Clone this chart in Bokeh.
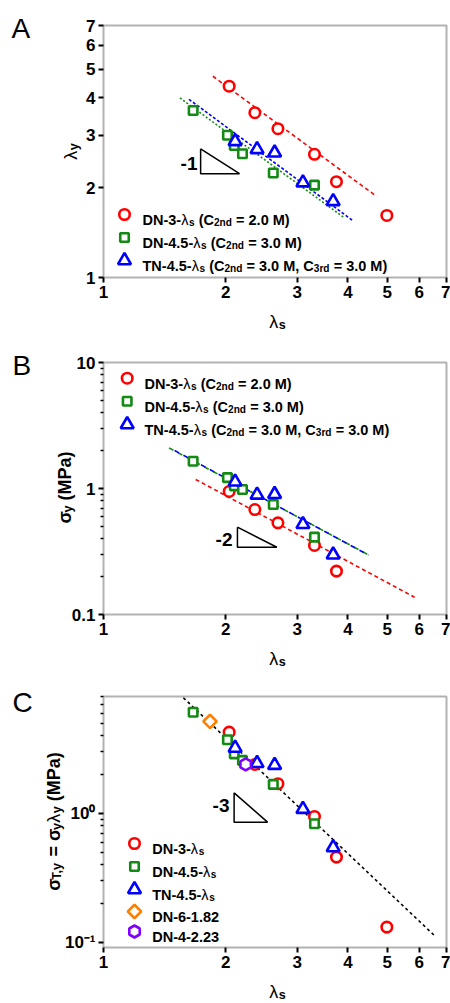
import math
from bokeh.plotting import figure
from bokeh.layouts import column
from bokeh.models import Range1d, FixedTicker, Label, BoxAnnotation
from bokeh.embed import file_html
from bokeh.resources import INLINE

# ---------------- data ----------------
x_ticks = [1, 2, 3, 4, 5, 6, 7]
x_tick_labels = ["1", "2", "3", "4", "5", "6", "7"]
a_y_ticks = [1, 2, 3, 4, 5, 6, 7]
a_y_tick_labels = ["1", "2", "3", "4", "5", "6", "7"]
b_y_ticks = [0.1, 1, 10]
b_y_tick_labels = ["0.1", "1", "10"]
c_y_ticks = [0.1, 1]
c_y_tick_labels = ["10\u207b\u00b9", "10\u2070"]

# lambda_s of each sample series
dn3_ls = [2.04, 2.36, 2.69, 3.31, 3.75, 4.99]
dn45_ls = [1.663, 2.02, 2.10, 2.20, 2.62, 3.31]
tn45_ls = [2.11, 2.39, 2.64, 3.10, 3.68]
dn6_ls = [1.83]
dn4_ls = [2.24]

# panel A : lambda_y
a_dn3 = [4.38, 3.57, 3.155, 2.59, 2.095, 1.615]
a_dn45 = [3.63, 3.00, 2.77, 2.60, 2.24, 2.04]
a_tn45 = [2.86, 2.69, 2.62, 2.08, 1.80]

# panel B : sigma_y (MPa)
b_dn3_ls = [2.04, 2.36, 2.69, 3.31, 3.75]
b_dn3 = [0.947, 0.681, 0.534, 0.353, 0.221]
b_dn45 = [1.647, 1.22, 1.05, 0.982, 0.746, 0.411]
b_tn45 = [1.13, 0.89, 0.90, 0.52, 0.298]

# panel C : sigma_T,y (MPa)
c_dn3 = [4.27, 2.40, 1.70, 0.948, 0.459, 0.1315]
c_dn45 = [6.10, 3.73, 2.90, 2.58, 1.68, 0.832]
c_tn45 = [3.22, 2.45, 2.37, 1.08, 0.545]
c_dn6 = [5.17]
c_dn4 = [2.40]

# fitted lines (end points)
a_fit_dn3_x, a_fit_dn3_y = [1.86, 4.71], [4.73, 1.87]
a_fit_dn45_x, a_fit_dn45_y = [1.543, 3.92], [4.00, 1.586]
a_fit_tn45_x, a_fit_tn45_y = [1.624, 4.11], [3.96, 1.553]
b_fit_dn3_x, b_fit_dn3_y = [1.687, 5.84], [1.18, 0.137]
b_fit_dn45_x, b_fit_dn45_y = [1.45, 4.48], [2.10, 0.299]
b_fit_tn45_x, b_fit_tn45_y = [1.46, 4.50], [2.09, 0.296]
c_fit_x, c_fit_y = [1.573, 6.54], [7.89, 0.113]

# slope triangles
a_tri_x, a_tri_y = [1.735, 1.735, 2.163, 1.735], [2.70, 2.23, 2.23, 2.70]
b_tri_x, b_tri_y = [2.138, 2.138, 2.674, 2.138], [0.493, 0.342, 0.342, 0.493]
c_tri_x, c_tri_y = [2.098, 2.098, 2.536, 2.098], [1.446, 0.856, 0.856, 1.446]
slope_texts = ["-1", "-2", "-3"]

# axis limits of each panel
x_lim = [1, 7]
a_y_lim = [1, 7]
b_y_lim = [0.1, 10]
c_y_lim = [0.0914, 8.07]

# legend texts (text, mode, bold)
legend_ab = [
    [("DN-3-", "n", 1), ("\u03bb", "n", 0), ("s", "sub", 1), (" (C", "n", 1), ("2nd", "sub", 1), (" = 2.0 M)", "n", 1)],
    [("DN-4.5-", "n", 1), ("\u03bb", "n", 0), ("s", "sub", 1), (" (C", "n", 1), ("2nd", "sub", 1), (" = 3.0 M)", "n", 1)],
    [("TN-4.5-", "n", 1), ("\u03bb", "n", 0), ("s", "sub", 1), (" (C", "n", 1), ("2nd", "sub", 1),
     (" = 3.0 M, C", "n", 1), ("3rd", "sub", 1), (" = 3.0 M)", "n", 1)],
]
legend_c = [
    [("DN-3-", "n", 1), ("\u03bb", "n", 0), ("s", "sub", 1)],
    [("DN-4.5-", "n", 1), ("\u03bb", "n", 0), ("s", "sub", 1)],
    [("TN-4.5-", "n", 1), ("\u03bb", "n", 0), ("s", "sub", 1)],
    [("DN-6-1.82", "n", 1)],
    [("DN-4-2.23", "n", 1)],
]
xlabel_parts = [("\u03bb", "n", 0), ("s", "sub", 1)]
a_ylabel_parts = [("\u03bb", "n", 0), ("y", "sub", 1)]
b_ylabel_parts = [("\u03c3", "n", 1), ("y", "sub", 1), (" (MPa)", "n", 1)]
c_ylabel_parts = [("\u03c3", "n", 1), ("T,y", "sub", 1), (" = \u03c3", "n", 1), ("y", "sub", 1),
                  ("\u03bb", "n", 0), ("y", "sub", 1), (" (MPa)", "n", 1)]

# ---------------- styles ----------------
FONT = "Liberation Sans"
RED, GREEN, BLUE, ORANGE, PURPLE = "#ff0000", "#138a13", "#0000ff", "#ff8000", "#8000ff"
STY = {
    "dn3": dict(marker="circle", size=10.5, line_color=RED, line_width=2.6, fill_color="white"),
    "dn45": dict(marker="square", size=8.5, line_color=GREEN, line_width=2.6, fill_color="white"),
    "tn45": dict(marker="triangle", size=13, line_color=BLUE, line_width=2.6, fill_color="white"),
    "dn6": dict(marker="square", angle=math.pi / 4, size=9.5, line_color=ORANGE, line_width=2.6, fill_color="white"),
    "dn4": dict(marker="hex", angle=math.pi / 2, size=12, line_color=PURPLE, line_width=2.6, fill_color="white"),
}

ADV = {' ': 278, '(': 333, ')': 333, ',': 278, '-': 333, '.': 278, '=': 584,
       'A': 722, 'B': 722, 'C': 722, 'D': 722, 'M': 833, 'N': 722, 'P': 667, 'T': 611,
       'a': 556, 'd': 611, 'n': 611, 'r': 389, 's': 556, 'y': 556, '\u03bb': 540, '\u03c3': 618}
for _d in "0123456789":
    ADV[_d] = 556


def tw(s, size):
    return sum(ADV.get(c, 556) for c in s) * size / 1000.0


BOX_L, BOX_W = 103, 343   # box left / width on the page (px)
LX = math.log10(x_lim[1] / x_lim[0])
SUB, DROP = 0.7, 0.22
FIG_W = 450


class Geo:
    def __init__(self, top, h, lo, hi):
        self.top, self.h, self.lo, self.hi = top, h, math.log10(lo), math.log10(hi)

    def xd(self, px):
        return x_lim[0] * 10 ** ((px - BOX_L) / BOX_W * LX)

    def yd(self, py):
        return 10 ** (self.hi - (py - self.top) / self.h * (self.hi - self.lo))


def add_text(p, G, x, y, text, size, bold=True, angle=0.0, align="left", baseline="alphabetic"):
    p.add_layout(Label(x=G.xd(x), y=G.yd(y), text=text, text_font=FONT,
                       text_font_size=f"{size:.1f}px", text_font_style="bold" if bold else "normal",
                       text_color="black", text_align=align, text_baseline=baseline, angle=angle))


def add_rich(p, G, x_ref, y_ref, parts, size, rotate=False, center=False):
    ws = [tw(t, size * SUB if m == "sub" else size) for t, m, b in parts]
    total = sum(ws)
    off = 0.0
    for (t, m, b), w in zip(parts, ws):
        s = size * SUB if m == "sub" else size
        lead = tw(" " * (len(t) - len(t.lstrip(" "))), s)
        txt = t.strip(" ")
        if not rotate:
            x0 = x_ref - (total / 2 if center else 0)
            yy = y_ref + (DROP * size if m == "sub" else 0)
            add_text(p, G, x0 + off + lead, yy, txt, s, bool(b))
        else:
            x0 = x_ref + (DROP * size if m == "sub" else 0)
            y0 = y_ref + total / 2
            add_text(p, G, x0, y0 - off - lead, txt, s, bool(b), angle=math.pi / 2)
        off += w


def make_fig(G, page_top, height, ylim, yticks, ylabels, yminor):
    p = figure(width=FIG_W, height=height, x_axis_type="log", y_axis_type="log",
               x_range=Range1d(G.xd(0), G.xd(FIG_W)),
               y_range=Range1d(G.yd(page_top + height), G.yd(page_top)), title=None,
               output_backend="svg", toolbar_location=None, min_border=0)
    p.xgrid.visible = False
    p.ygrid.visible = False
    p.outline_line_color = None
    p.xaxis.fixed_location = ylim[0]
    p.yaxis.fixed_location = x_lim[0]
    p.xaxis.ticker = FixedTicker(ticks=x_ticks, minor_ticks=[])
    p.xaxis.major_label_overrides = {t: l for t, l in zip(x_ticks, x_tick_labels)}
    p.yaxis.ticker = FixedTicker(ticks=yticks, minor_ticks=yminor)
    p.yaxis.major_label_overrides = {t: l for t, l in zip(yticks, ylabels)}
    for ax in (p.xaxis[0], p.yaxis[0]):
        ax.axis_line_color = None
        ax.major_tick_line_width = 2
        ax.major_tick_line_color = "black"
        ax.major_tick_out = 5
        ax.major_tick_in = 0
        ax.minor_tick_line_width = 1.5
        ax.minor_tick_line_color = "black"
        ax.minor_tick_out = 3
        ax.minor_tick_in = 0
        ax.major_label_text_font = FONT
        ax.major_label_text_font_style = "bold"
        ax.major_label_text_font_size = "17px"
        ax.major_label_text_color = "black"
        ax.major_label_standoff = 3
    p.add_layout(BoxAnnotation(left=x_lim[0], right=x_lim[1], bottom=ylim[0], top=ylim[1],
                               fill_color=None, line_color="black", line_width=2))
    return p


def minor(decades, top_lim):
    out = []
    for d in decades:
        for k in range(2, 10):
            v = k * d
            if v < top_lim:
                out.append(v)
    return out


# ---------------- panel A ----------------
GA = Geo(25, 252, a_y_lim[0], a_y_lim[1])
pA = make_fig(GA, 0, 334, a_y_lim, a_y_ticks, a_y_tick_labels, [])
pA.line(a_fit_dn3_x, a_fit_dn3_y, line_color=RED, line_width=1.6, line_dash="4 3")
pA.line(a_fit_dn45_x, a_fit_dn45_y, line_color=GREEN, line_width=1.6, line_dash="2 2")
pA.line(a_fit_tn45_x, a_fit_tn45_y, line_color=BLUE, line_width=1.6, line_dash="3 2")
pA.line(a_tri_x, a_tri_y, line_color="black", line_width=1.5)
pA.scatter(dn3_ls, a_dn3, **STY["dn3"])
pA.scatter(dn45_ls, a_dn45, **STY["dn45"])
pA.scatter(tn45_ls, a_tn45, **STY["tn45"])
add_text(pA, GA, 197, 163, slope_texts[0], 19, align="right", baseline="middle")
for key, row, parts in zip(["dn3", "dn45", "tn45"], [214, 237, 260], legend_ab):
    pA.scatter([GA.xd(124)], [GA.yd(row)], **STY[key])
    add_rich(pA, GA, 142, row + 5.3, parts, 14.5)
add_rich(pA, GA, 277, 321, xlabel_parts, 18, center=True)
add_rich(pA, GA, 70, 151, a_ylabel_parts, 18, rotate=True)
add_text(pA, GA, 11, 28, "A", 28, bold=False)

# ---------------- panel B ----------------
GB = Geo(362, 252, b_y_lim[0], b_y_lim[1])
pB = make_fig(GB, 334, 334, b_y_lim, b_y_ticks, b_y_tick_labels, minor([0.1, 1], 10))
pB.line(b_fit_dn3_x, b_fit_dn3_y, line_color=RED, line_width=1.6, line_dash="4 3")
pB.line(b_fit_dn45_x, b_fit_dn45_y, line_color=GREEN, line_width=1.6, line_dash="5 5")
pB.line(b_fit_tn45_x, b_fit_tn45_y, line_color=BLUE, line_width=1.6, line_dash="5 5", line_dash_offset=5)
pB.line(b_tri_x, b_tri_y, line_color="black", line_width=1.5)
pB.scatter(b_dn3_ls, b_dn3, **STY["dn3"])
pB.scatter(dn45_ls, b_dn45, **STY["dn45"])
pB.scatter(tn45_ls, b_tn45, **STY["tn45"])
add_text(pB, GB, 232, 538.5, slope_texts[1], 19, align="right", baseline="middle")
for key, row, parts in zip(["dn3", "dn45", "tn45"], [377.7, 400.7, 424], legend_ab):
    pB.scatter([GB.xd(126.7)], [GB.yd(row)], **STY[key])
    add_rich(pB, GB, 144, row + 5.3, parts, 14.5)
add_rich(pB, GB, 277, 658, xlabel_parts, 18, center=True)
add_rich(pB, GB, 64, 487, b_ylabel_parts, 18, rotate=True)
add_text(pB, GB, 12, 365, "B", 28, bold=False)

# ---------------- panel C ----------------
GC = Geo(696, 251, c_y_lim[0], c_y_lim[1])
pC = make_fig(GC, 668, 335, c_y_lim, c_y_ticks, c_y_tick_labels, minor([0.1, 1], 8.07))
pC.line(c_fit_x, c_fit_y, line_color="black", line_width=1.6, line_dash="3 3")
pC.line(c_tri_x, c_tri_y, line_color="black", line_width=1.5)
pC.scatter(dn3_ls, c_dn3, **STY["dn3"])
pC.scatter(dn45_ls, c_dn45, **STY["dn45"])
pC.scatter(tn45_ls, c_tn45, **STY["tn45"])
pC.scatter(dn6_ls, c_dn6, **STY["dn6"])
pC.scatter(dn4_ls, c_dn4, **STY["dn4"])
add_text(pC, GC, 229, 805, slope_texts[2], 19, align="right", baseline="middle")
for key, row, parts in zip(["dn3", "dn45", "tn45", "dn6", "dn4"], [843, 866, 889, 911, 931], legend_c):
    pC.scatter([GC.xd(134)], [GC.yd(row)], **STY[key])
    add_rich(pC, GC, 151.7, row + 5.3, parts, 14.5)
add_rich(pC, GC, 277, 991, xlabel_parts, 18, center=True)
add_rich(pC, GC, 53, 821, c_ylabel_parts, 18, rotate=True)
add_text(pC, GC, 12, 702, "C", 28, bold=False)

layout = column(pA, pB, pC)
open("out.html", "w").write(file_html(layout, INLINE))
